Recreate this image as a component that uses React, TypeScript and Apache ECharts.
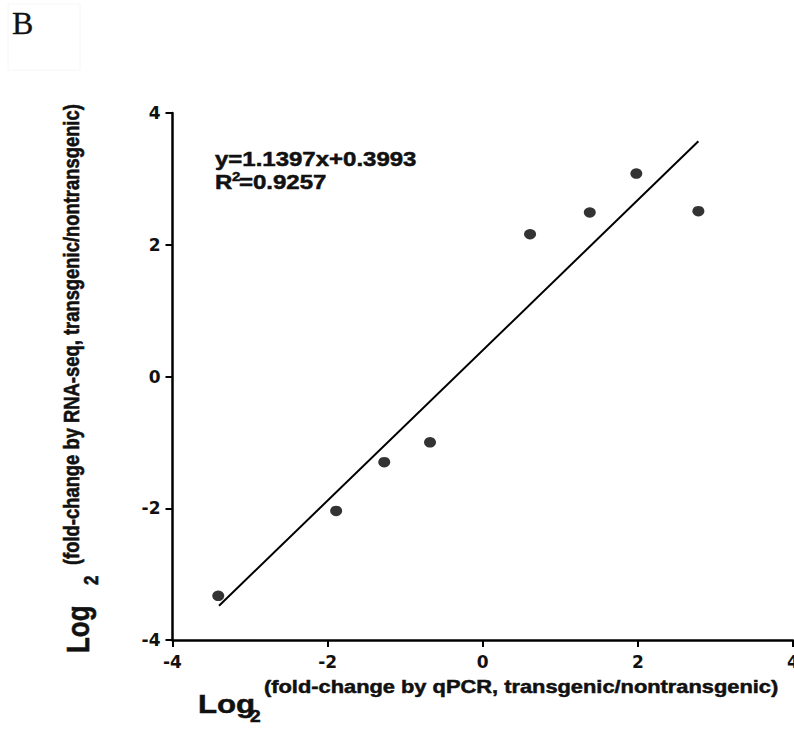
import React, { useEffect, useRef } from "react";
import * as echarts from "echarts";

// Data
const xQpcr = [-3.41, -1.89, -1.27, -0.68, 0.61, 1.38, 1.98, 2.78];
const yRnaSeq = [-3.33, -2.04, -1.3, -1.0, 2.16, 2.49, 3.08, 2.51];
// Fitted line end points (y = 1.1397x + 0.3993)
const fitX = [-3.4, 2.78];
const fitY = [-3.48, 3.57];
const axisMin = -4;
const axisMax = 4;
const axisStep = 2;

const equationText = "y=1.1397x+0.3993";
const r2Value = "=0.9257";
const xTitleSup = "(fold-change by qPCR, transgenic/nontransgenic)";
const yTitleSup = "(fold-change by RNA-seq, transgenic/nontransgenic)";

const SANS = '"Liberation Sans", Arial, sans-serif';

export default function App() {
  const ref = useRef<HTMLDivElement>(null);
  useEffect(() => {
    if (!ref.current) return;
    const chart = echarts.init(ref.current, null, { renderer: "svg" });
    const pts = xQpcr.map((x, i) => [x, yRnaSeq[i]]);
    const fit = fitX.map((x, i) => [x, fitY[i]]);
    const txt = (
      text: string,
      x: number,
      y: number,
      size: number,
      opts: any = {}
    ) => ({
      type: "text",
      x,
      y,
      rotation: opts.rotation || 0,
      scaleX: opts.scaleX ?? 1,
      scaleY: opts.scaleY ?? 1,
      silent: true,
      style: {
        text,
        fill: opts.fill || "#111",
        fontSize: size,
        fontWeight: opts.weight || "bold",
        fontFamily: opts.family || SANS,
        align: "left",
        verticalAlign: "middle",
        stroke: opts.fill || "#111",
        lineWidth: opts.stroke ?? 0.5,
      },
    });
    const S = 1.2;
    chart.setOption({
      animation: false,
      backgroundColor: "#ffffff",
      grid: {
        left: 172.5,
        right: 1,
        top: 113,
        bottom: 91,
        containLabel: false,
        outerBoundsMode: "none",
      },
      xAxis: {
        type: "value",
        min: axisMin,
        max: axisMax,
        interval: axisStep,
        axisLine: { onZero: false, lineStyle: { color: "#000", width: 2.5 } },
        axisTick: { show: true, length: 7, lineStyle: { color: "#000", width: 2 } },
        axisLabel: {
          margin: 13,
          color: "#111",
          fontSize: 17,
          fontWeight: "bold",
          fontFamily: '"DejaVu Sans", sans-serif',
          showMinLabel: true,
          showMaxLabel: true,
        },
        splitLine: { show: false },
      },
      yAxis: {
        type: "value",
        min: axisMin,
        max: axisMax,
        interval: axisStep,
        axisLine: { show: true, onZero: false, lineStyle: { color: "#000", width: 2.5 } },
        axisTick: { show: true, length: 7, lineStyle: { color: "#000", width: 2 } },
        axisLabel: {
          margin: 12,
          color: "#111",
          fontSize: 17,
          fontWeight: "bold",
          fontFamily: '"DejaVu Sans", sans-serif',
          showMinLabel: true,
          showMaxLabel: true,
        },
        splitLine: { show: false },
      },
      series: [
        {
          type: "line",
          data: fit,
          symbol: "none",
          lineStyle: { color: "#000", width: 2 },
          z: 2,
        },
        {
          type: "scatter",
          data: pts,
          symbol: "circle",
          symbolSize: [12, 10.5],
          itemStyle: { color: "#000" },
          z: 3,
        },
      ],
      graphic: [
        {
          type: "rect",
          silent: true,
          shape: { x: 8, y: 4, width: 72, height: 66 },
          style: { fill: "none", stroke: "#f6f6f6", lineWidth: 1 },
        },
        txt("B", 12, 23, 32, {
          weight: "normal",
          family: '"Liberation Serif", "Times New Roman", serif',
          fill: "#111",
          stroke: 0.3,
        }),
        // equation
        txt(equationText, 215, 159, 20, { scaleX: S }),
        txt("R", 215, 182, 20, { scaleX: S }),
        txt("2", 232, 177, 12.5, { scaleX: S }),
        txt(r2Value, 239, 182, 20, { scaleX: S }),
        // x title
        txt("Log", 198, 704, 26, { scaleX: S }),
        txt("2", 250, 717, 16, { scaleX: S }),
        txt(xTitleSup, 264, 687, 18.2, { scaleX: S }),
        // y title (rotated)
        txt("Log", 78, 653, 26, { rotation: Math.PI / 2, scaleY: S }),
        txt("2", 91, 585, 17, { rotation: Math.PI / 2, scaleY: S }),
        txt(yTitleSup, 71, 565, 18.4, { rotation: Math.PI / 2, scaleY: S }),
      ],
    });
    return () => chart.dispose();
  }, []);
  return (
    <div
      ref={ref}
      style={{ position: "fixed", left: 0, top: 0, width: 794, height: 731, background: "#fff" }}
    />
  );
}
